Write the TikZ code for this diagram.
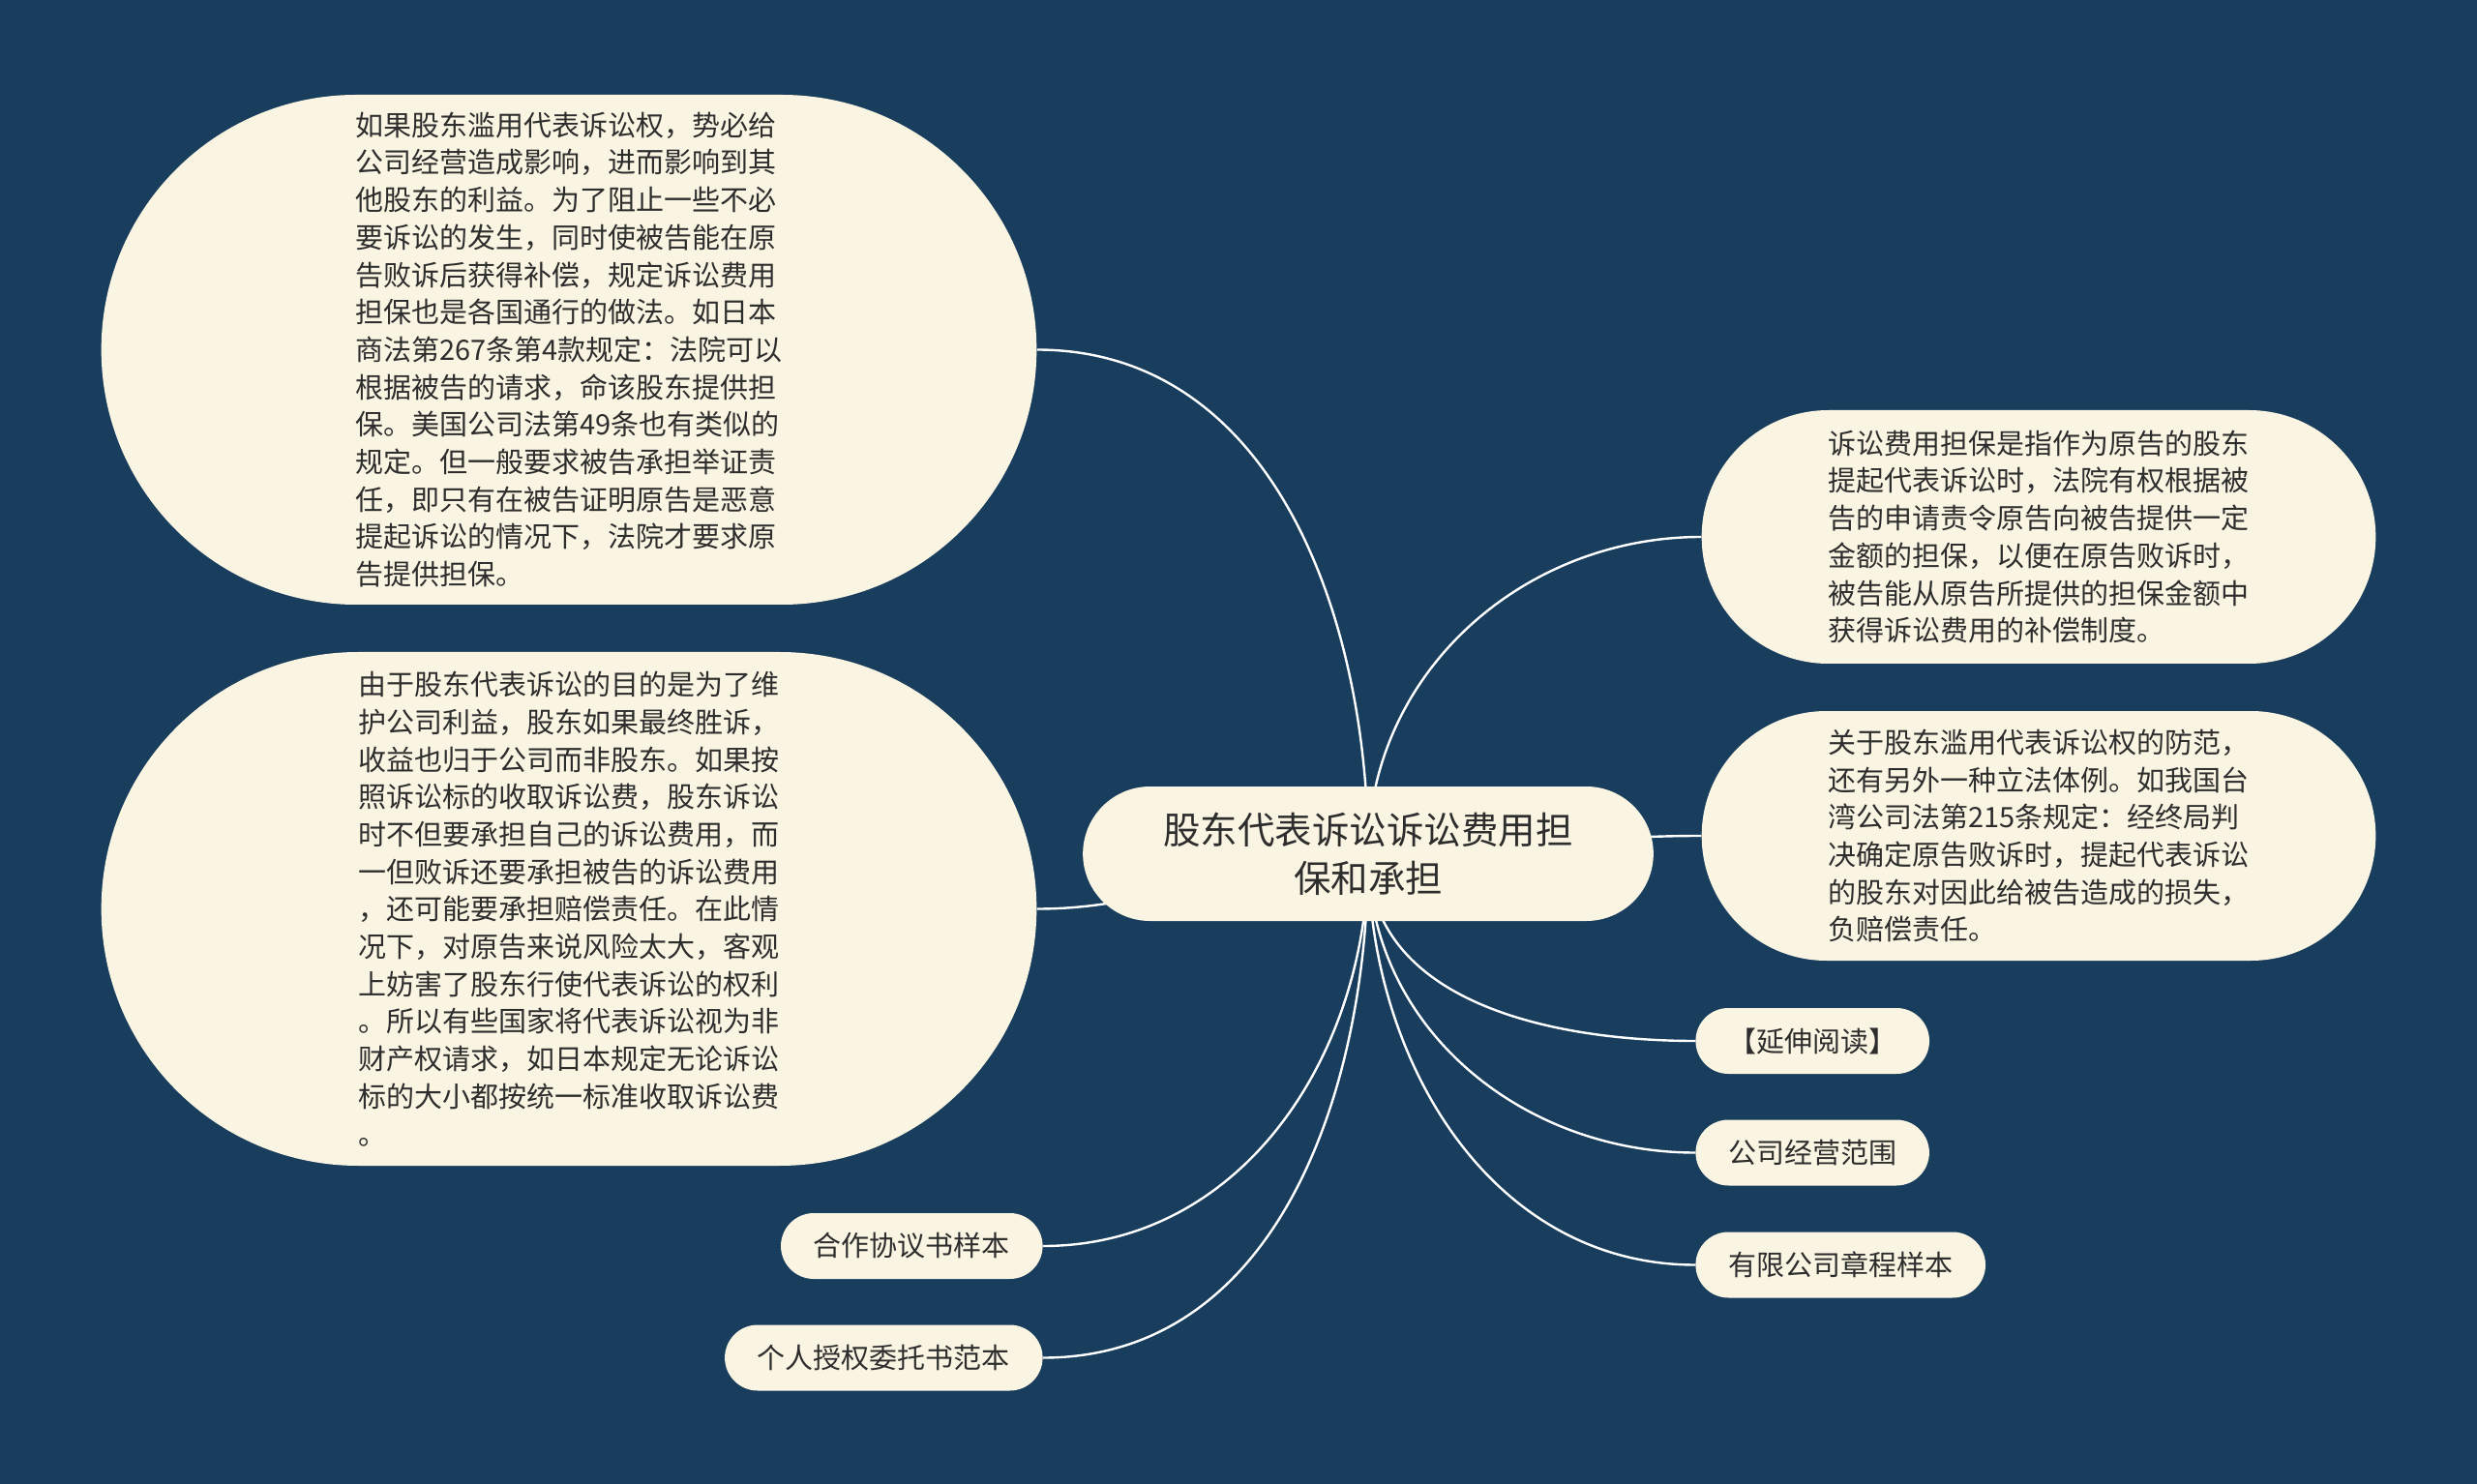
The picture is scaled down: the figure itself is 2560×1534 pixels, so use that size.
\documentclass[tikz,border=0pt]{standalone}
\usepackage{fontspec}
\newfontfamily\cjkfont{Noto Sans CJK SC}
\usepackage{tikz}
\usetikzlibrary{shapes.misc,positioning}
\usepackage{xcolor}
\definecolor{mapnavy}{RGB}{24,61,93}
\definecolor{mapcream}{RGB}{250,245,226}
\definecolor{maptext}{RGB}{45,45,45}
\pgfdeclarelayer{canvas}
\pgfdeclarelayer{links}
\pgfsetlayers{canvas,links,main}

\begin{document}
\begin{tikzpicture}[x=0.5pt,y=-0.5pt,
  topic/.style={rounded rectangle,fill=mapcream,text=maptext,align=center,
                minimum width=301.5pt,minimum height=69.5pt,
                font=\cjkfont\fontsize{19.25pt}{25pt}\selectfont},
  note/.style={rounded rectangle,fill=mapcream,text=maptext,align=left,
               font=\cjkfont\fontsize{14.5pt}{19.35pt}\selectfont},
  tag/.style={rounded rectangle,fill=mapcream,text=maptext,inner xsep=15.5pt,
              minimum height=34pt,font=\cjkfont\fontsize{14.5pt}{17pt}\selectfont},
  link/.style={draw=white,line width=1.2pt}
]
  % Canvas
  \begin{pgfonlayer}{canvas}
    \fill[mapnavy] (0,0) rectangle (2560,1534);
  \end{pgfonlayer}
  \useasboundingbox (0,0) rectangle (2560,1534);

  % Central topic
  \node[topic] (root) at (1414,882.5) {股东代表诉讼诉讼费用担\\保和承担};

  % Long notes
  \node[note,minimum width=490pt,minimum height=263.5pt] (abuse) at (588,361.5)
    {如果股东滥用代表诉讼权，势必给\\
     公司经营造成影响，进而影响到其\\
     他股东的利益。为了阻止一些不必\\
     要诉讼的发生，同时使被告能在原\\
     告败诉后获得补偿，规定诉讼费用\\
     担保也是各国通行的做法。如日本\\
     商法第267条第4款规定：法院可以\\
     根据被告的请求，命该股东提供担\\
     保。美国公司法第49条也有类似的\\
     规定。但一般要求被告承担举证责\\
     任，即只有在被告证明原告是恶意\\
     提起诉讼的情况下，法院才要求原\\
     告提供担保。};
  \node[note,minimum width=490pt,minimum height=265.5pt] (cost) at (588,939.5)
    {由于股东代表诉讼的目的是为了维\\
     护公司利益，股东如果最终胜诉，\\
     收益也归于公司而非股东。如果按\\
     照诉讼标的收取诉讼费，股东诉讼\\
     时不但要承担自己的诉讼费用，而\\
     一但败诉还要承担被告的诉讼费用\\
     ，还可能要承担赔偿责任。在此情\\
     况下，对原告来说风险太大，客观\\
     上妨害了股东行使代表诉讼的权利\\
     。所以有些国家将代表诉讼视为非\\
     财产权请求，如日本规定无论诉讼\\
     标的大小都按统一标准收取诉讼费\\
     。};
  \node[note,minimum width=355pt,minimum height=131pt] (bond) at (2107,555)
    {诉讼费用担保是指作为原告的股东\\
     提起代表诉讼时，法院有权根据被\\
     告的申请责令原告向被告提供一定\\
     金额的担保，以便在原告败诉时，\\
     被告能从原告所提供的担保金额中\\
     获得诉讼费用的补偿制度。};
  \node[note,minimum width=355pt,minimum height=129pt] (taiwan) at (2107,864)
    {关于股东滥用代表诉讼权的防范，\\
     还有另外一种立法体例。如我国台\\
     湾公司法第215条规定：经终局判\\
     决确定原告败诉时，提起代表诉讼\\
     的股东对因此给被告造成的损失，\\
     负赔偿责任。};

  % Short tags
  \node[tag,anchor=west] (more)    at (1752,1076)   {【延伸阅读】};
  \node[tag,anchor=west] (scope)   at (1752,1191.5) {公司经营范围};
  \node[tag,anchor=west] (charter) at (1752,1307.5) {有限公司章程样本};
  \node[tag,anchor=east] (coop)    at (1078,1288)   {合作协议书样本};
  \node[tag,anchor=east] (proxy)   at (1078,1403.5) {个人授权委托书范本};

  % Links (behind the nodes)
  \begin{pgfonlayer}{links}
    \draw[link] (root.center) to[out=90,in=0] (abuse.east);
    \draw[link] (root.center) to[out=90,in=180] (bond.west);
    \draw[link] (root.center) to[out=180,in=0] (cost.east);
    \draw[link] (root.center) to[out=0,in=180] (taiwan.west);
    \foreach \n in {more,scope,charter}
      \draw[link] (root.center) to[out=-90,in=180] (\n.west);
    \foreach \n in {coop,proxy}
      \draw[link] (root.center) to[out=-90,in=0] (\n.east);
  \end{pgfonlayer}
\end{tikzpicture}
\end{document}
